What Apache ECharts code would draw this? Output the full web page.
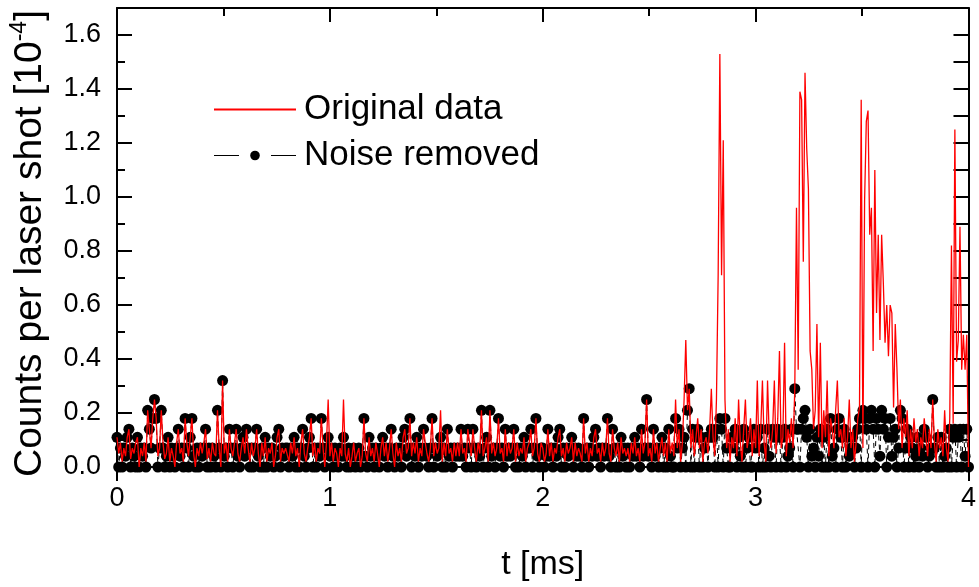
<!DOCTYPE html>
<html><head><meta charset="utf-8">
<script src="https://cdn.jsdelivr.net/npm/echarts@6/dist/echarts.min.js"></script>
<style>html,body{margin:0;padding:0;background:#fff}#c{width:979px;height:587px}</style>
</head><body><div id="c"></div>
<script>
// Legend / series names
const seriesNames = ['Original data', 'Noise removed'];
// x-axis ticks (ms) and y-axis ticks (10^-4)
const xTicks = [0, 1, 2, 3, 4];
const yTicks = [0, 0.2, 0.4, 0.6, 0.8, 1.0, 1.2, 1.4, 1.6];
// time grid: sample i is at t = i * tStep (ms)
const tStep = 0.008;

// Original data, counts per laser shot [1e-4], blocks of 0.2 ms
const orig00 = [.11,.05,.09,.02,.07,.04,.11,.14,.03,.07,.05,.09,.11,0,.07,.04,.09,.02,.21,.14,.07,.18,.25,.18,.04];
const orig02 = [.07,.21,.09,.03,.05,.11,.02,.07,.04,0,.09,.14,.05,.07,.02,.18,.09,.04,.11,.18,.05,0,.07,.04,.09];
const orig04 = [.05,.09,.14,.03,.07,.02,.09,.05,.04,.21,.07,0,.32,.05,.09,.02,.14,.07,.04,.09,.14,.05,.02,.07,.11];
const orig06 = [.05,.14,.07,.02,.09,.04,.07,.14,.05,0,.09,.04,.11,.02,.07,.05,.09,0,.04,.11,.14,.02,.07,.05,.07];
const orig08 = [.07,.02,.09,.05,.11,.04,.07,0,.09,.14,.05,.02,.07,.11,.18,.04,.09,.02,.07,.05,.18,.07,0,.09,.25];
const orig10 = [.04,.09,.02,.07,.05,0,.07,.04,.25,.05,.02,.07,0,.04,.09,.02,.05,.07,0,.04,.18,.05,.02,.11,.04];
const orig12 = [.07,.02,.09,.05,0,.07,.11,.04,.09,.02,.07,.14,.05,0,.09,.04,.07,.02,.11,.14,.05,.07,.18,.04,.09];
const orig14 = [.05,.11,.02,.07,.04,.14,.09,.05,.02,.07,.18,.04,.09,.05,.07,.21,.02,.09,.04,.14,.05,.07,.02,.09,.04];
const orig16 = [.09,.04,.14,.05,.07,.02,.14,.09,.04,.14,.07,.02,.09,.05,.21,.04,.07,.11,.02,.21,.05,.09,.04,.07,.18];
const orig18 = [.05,.07,.02,.14,.04,.09,.05,.07,.14,.02,.09,.04,.07,.05,.11,.02,.07,.09,.14,.04,.07,.18,.05,.02,.09];
const orig20 = [.07,.02,.05,.14,.04,.09,.02,.07,.05,.11,.14,.04,.07,.02,.09,.05,.07,.11,.02,.09,.04,.07,.05,.02,.18];
const orig22 = [.05,.09,.02,.07,.04,.11,.14,.05,.07,.02,.09,.04,.07,.18,.05,.02,.14,.07,.04,.09,.02,.11,.05,.07,.04];
const orig24 = [.07,.02,.09,.05,.11,.04,.07,.02,.14,.05,.09,.25,.04,.07,.02,.14,.05,.09,.02,.07,.11,.04,.09,.02,.14];
const orig26 = [.05,.09,.04,.25,.07,.14,.02,.09,.25,.47,.21,.29,.07,.14,.04,.11,.18,.07,.14,.02,.09,.11,.05,.14,.29];
const orig28 = [.11,.04,.25,.71,1.53,.71,1.21,.25,.07,.14,.02,.11,.07,.18,.04,.25,.09,.02,.14,.25,.07,.11,.18,.04,.14];
const orig30 = [.07,.32,.04,.14,.32,.09,.02,.32,.11,.07,.14,.32,.05,.18,.43,.07,.11,.46,.04,.14,.09,.18,.07,.29,.96];
const orig32 = [.36,1.39,1.36,.76,1.46,1.18,1.03,.43,.36,.14,.21,.53,.11,.46,.07,.21,.11,.32,.04,.18,.14,.07,.21,.32,.11];
const orig34 = [.14,.07,.18,.04,.11,.25,.07,.14,.02,.09,.18,.22,1.36,.07,.99,1.28,1.32,.86,.96,.43,1.10,.57,.86,.47,.86];
const orig36 = [.68,.46,.60,.41,.60,.57,.22,.53,.36,.14,.25,.07,.18,.11,.21,.04,.14,.07,.18,.09,.14,.04,.11,.07,.18];
const orig38 = [.11,.04,.14,.07,.25,.09,.02,.14,.07,.11,.04,.21,.07,.02,.18,.82,.16,1.25,.39,.47,.89,.36,.49,.36,.49,0];

// Noise removed, same time grid
const clean00 = [.11,0,.07,0,.07,.04,.11,.14,0,.07,.04,0,.11,0,.07,.04,.07,0,.21,.14,.07,.18,.25,.18,0];
const clean02 = [.07,.21,.07,0,.04,.11,0,.07,.04,0,.07,.14,.04,.07,0,.18,.07,0,.11,.18,.04,0,.07,0,.07];
const clean04 = [.04,.07,.14,0,.07,0,.07,.04,0,.21,.07,0,.32,.04,.07,0,.14,.07,0,.07,.14,.04,0,.07,.11];
const clean06 = [.04,.14,.07,0,.07,0,.07,.14,.04,0,.07,0,.11,0,.07,.04,.07,0,.04,.11,.14,0,.07,.04,.07];
const clean08 = [.07,0,.07,.04,.11,0,.07,0,.07,.14,.04,0,.07,.11,.18,0,.07,0,.07,.04,.18,.07,0,.07,.11];
const clean10 = [.04,.07,0,.07,.04,0,.07,.04,.11,.04,0,.07,0,.04,.07,0,.04,.07,0,.04,.18,.04,0,.11,.04];
const clean12 = [.07,0,.07,.04,0,.07,.11,.04,.07,0,.07,.14,.04,0,.07,.04,.07,0,.11,.14,.04,.07,.18,0,.07];
const clean14 = [.04,.11,0,.07,.04,.14,.07,.04,0,.07,.18,0,.07,.04,.07,.11,0,.07,0,.14,.04,.07,0,.07,.04];
const clean16 = [.07,.04,.14,.04,.07,0,.14,.07,0,.14,.07,0,.07,.04,.21,0,.07,.11,0,.21,.04,.07,0,.07,.18];
const clean18 = [.04,.07,0,.14,.04,.07,.04,.07,.14,0,.07,0,.07,.04,.11,0,.07,.07,.14,0,.07,.18,.04,0,.07];
const clean20 = [.07,0,.04,.14,.04,.07,0,.07,.04,.11,.14,0,.07,0,.07,.04,.07,.11,0,.07,.04,.07,.04,0,.18];
const clean22 = [.04,.07,0,.07,.04,.11,.14,.04,.07,0,.07,.04,.07,.18,.04,0,.14,.07,0,.07,0,.11,.04,.07,0];
const clean24 = [.07,0,.07,.04,.11,.04,.07,0,.14,.04,.07,.25,.04,.07,0,.14,.04,.07,0,.07,.11,0,.07,0,.14];
const clean26 = [.04,0,0,.18,.07,.14,0,.07,.11,0,.21,.29,0,.14,0,.11,.14,0,.11,0,.07,.11,0,.11,.14];
const clean28 = [.11,0,.14,0,.18,.14,0,.18,.07,0,0,.11,.07,.14,0,.11,.04,0,.14,0,.07,.11,0,0,.14];
const clean30 = [.07,.11,0,.14,0,.07,0,.14,.04,0,.14,.11,0,.14,.11,0,.11,.14,0,.04,.07,.14,0,.29,.14];
const clean32 = [.14,0,.14,.18,.21,.11,0,.14,.04,.07,0,.11,.04,.14,0,.11,0,.14,0,.18,.04,.07,0,.14,.18];
const clean34 = [.11,0,.14,0,.11,.04,.07,.11,0,.07,.14,.18,0,.21,.18,.14,0,.18,.21,.14,0,.18,.14,.04,.21];
const clean36 = [.14,.18,0,.11,.18,.04,.11,.14,0,.07,.21,.18,0,.07,.14,0,.11,.07,0,.04,.11,0,.07,.04,.14];
const clean38 = [.11,0,.04,.07,.25,.07,0,.11,0,.11,0,.04,.07,0,.14,0,.11,.14,0,.11,.14,0,.14,.04,.14,0];

const original = [].concat(orig00,orig02,orig04,orig06,orig08,orig10,orig12,orig14,orig16,orig18,
  orig20,orig22,orig24,orig26,orig28,orig30,orig32,orig34,orig36,orig38);
const cleaned = [].concat(clean00,clean02,clean04,clean06,clean08,clean10,clean12,clean14,clean16,clean18,
  clean20,clean22,clean24,clean26,clean28,clean30,clean32,clean34,clean36,clean38);
const toPairs = arr => arr.map((v, i) => [Math.round(i * tStep * 1000) / 1000, v]);

const F = "'Liberation Sans', Arial, Helvetica, sans-serif";
const axisLine = { show: true, onZero: false, lineStyle: { color: '#000', width: 2 } };

const chart = echarts.init(document.getElementById('c'), null, { renderer: 'canvas' });
chart.setOption({
  animation: false,
  backgroundColor: '#fff',
  textStyle: { fontFamily: F },
  grid: { left: 117, right: 4, top: 7, bottom: 110, containLabel: false },
  legend: {
    orient: 'vertical', left: 208, top: 87,
    itemWidth: 82, itemHeight: 12, itemGap: 11,
    textStyle: { fontSize: 35, color: '#000', fontFamily: F, padding: [0, 0, 0, 3] },
    data: [
      { name: seriesNames[0], itemStyle: { opacity: 0 } },
      { name: seriesNames[1], lineStyle: { type: [25, 32], width: 1, color: '#000' } }
    ]
  },
  xAxis: [
    {
      type: 'value', position: 'bottom', min: xTicks[0], max: xTicks[xTicks.length - 1], interval: 1,
      axisLine, splitLine: { show: false },
      axisTick: { show: true, inside: false, length: 14, lineStyle: { color: '#000', width: 2 } },
      axisLabel: { fontSize: 27, color: '#000', margin: 18, fontFamily: F },
      name: 't [ms]', nameLocation: 'middle', nameGap: 81,
      nameTextStyle: { fontSize: 34, color: '#000', fontFamily: F }
    },
    {
      type: 'value', position: 'top', min: 0, max: 4, interval: 1,
      axisLine, splitLine: { show: false },
      axisTick: { show: true, inside: true, length: 14, lineStyle: { color: '#000', width: 2 } },
      minorTick: { show: true, splitNumber: 2, length: 8, lineStyle: { color: '#000', width: 2 } },
      axisLabel: { show: false }
    }
  ],
  yAxis: [
    {
      type: 'value', position: 'left', min: 0, max: 1.7, interval: 0.2,
      axisLine, splitLine: { show: false },
      axisTick: { show: true, inside: true, length: 15, lineStyle: { color: '#000', width: 2 } },
      axisLabel: {
        fontSize: 27, color: '#000', margin: 16, fontFamily: F, showMaxLabel: false,
        formatter: v => (yTicks.some(t => Math.abs(t - v) < 1e-6) ? v.toFixed(1) : '')
      },
      name: 'Counts per laser shot [10{sup|-4}]', nameLocation: 'middle', nameGap: 64, nameRotate: 90,
      nameTextStyle: {
        fontSize: 39, color: '#000', fontFamily: F, lineHeight: 44, padding: [0, 12, 0, 0],
        rich: { sup: { fontSize: 23, fontFamily: F, color: '#000', verticalAlign: 'top', lineHeight: 23 } }
      }
    },
    {
      type: 'value', position: 'right', min: 0, max: 1.7, interval: 0.1,
      axisLine, splitLine: { show: false },
      axisTick: { show: true, inside: true, length: 15, lineStyle: { color: '#000', width: 2 } },
      axisLabel: { show: false }
    },
    {
      type: 'value', position: 'left', min: 0, max: 1.7, interval: 0.1,
      axisLine: { show: false }, splitLine: { show: false },
      axisTick: { show: true, inside: true, length: 8, lineStyle: { color: '#000', width: 2 } },
      axisLabel: { show: false }
    }
  ],
  series: [
    {
      name: seriesNames[1], type: 'line', xAxisIndex: 0, yAxisIndex: 0,
      data: toPairs(cleaned),
      symbol: 'circle', symbolSize: 11, showSymbol: true,
      itemStyle: { color: '#000' },
      lineStyle: { color: '#000', width: 1, type: [5, 4] },
      z: 2
    },
    {
      name: seriesNames[0], type: 'line', xAxisIndex: 0, yAxisIndex: 0,
      data: toPairs(original),
      symbol: 'none', showSymbol: false,
      itemStyle: { color: '#ff0000' },
      lineStyle: { color: '#ff0000', width: 1.3 },
      z: 3
    }
  ]
});
</script>
</body></html>
